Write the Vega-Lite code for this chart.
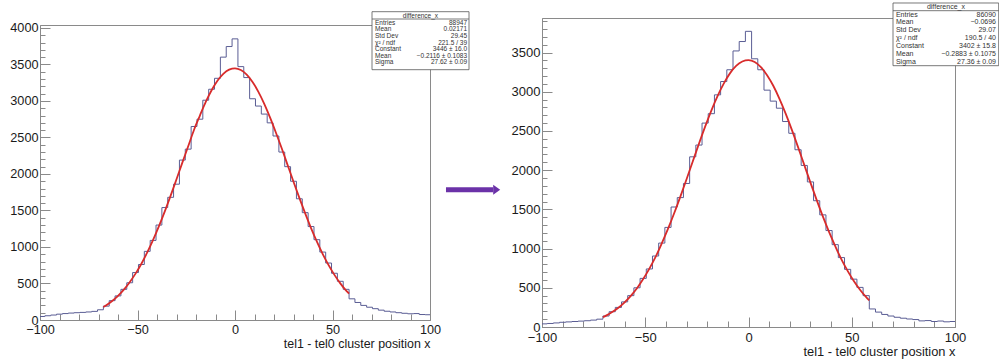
{
  "$schema": "https://vega.github.io/schema/vega-lite/v6.json",
  "background": "white",
  "padding": {"left": 9, "top": 2, "right": 0, "bottom": 0},
  "config": {
    "font": "Liberation Sans",
    "view": {"stroke": "#8a8a8a", "strokeWidth": 1},
    "axis": {"grid": false, "domainColor": "#8a8a8a", "tickColor": "#8a8a8a", "labelColor": "#1a1a1a", "titleColor": "#1a1a1a", "titleFontWeight": "normal", "labelFlush": false, "labelOverlap": false}
  },
  "datasets": {
    "h1": [
      {"x": -102, "n": 45}, {"x": -99, "n": 48}, {"x": -96, "n": 58}, {"x": -93, "n": 68}, {"x": -90, "n": 80},
      {"x": -87, "n": 88}, {"x": -84, "n": 95}, {"x": -81, "n": 100}, {"x": -78, "n": 104}, {"x": -75, "n": 110},
      {"x": -72, "n": 118}, {"x": -69, "n": 140}, {"x": -66, "n": 190}, {"x": -63, "n": 265}, {"x": -60, "n": 330},
      {"x": -57, "n": 420}, {"x": -54, "n": 510}, {"x": -51, "n": 650}, {"x": -48, "n": 760}, {"x": -45, "n": 940},
      {"x": -42, "n": 1090}, {"x": -39, "n": 1300}, {"x": -36, "n": 1540}, {"x": -33, "n": 1680}, {"x": -30, "n": 1860},
      {"x": -27, "n": 2190}, {"x": -24, "n": 2340}, {"x": -21, "n": 2650}, {"x": -18, "n": 2750}, {"x": -15, "n": 3010},
      {"x": -12, "n": 3160}, {"x": -9, "n": 3310}, {"x": -6, "n": 3600}, {"x": -3, "n": 3745}, {"x": 0, "n": 3850},
      {"x": 3, "n": 3470}, {"x": 6, "n": 3320}, {"x": 9, "n": 3030}, {"x": 12, "n": 2930}, {"x": 15, "n": 2820},
      {"x": 18, "n": 2700}, {"x": 21, "n": 2520}, {"x": 24, "n": 2300}, {"x": 27, "n": 2100}, {"x": 30, "n": 1900},
      {"x": 33, "n": 1660}, {"x": 36, "n": 1470}, {"x": 39, "n": 1280}, {"x": 42, "n": 1100}, {"x": 45, "n": 930},
      {"x": 48, "n": 780}, {"x": 51, "n": 640}, {"x": 54, "n": 530}, {"x": 57, "n": 420}, {"x": 60, "n": 290},
      {"x": 63, "n": 240}, {"x": 66, "n": 200}, {"x": 69, "n": 175}, {"x": 72, "n": 155}, {"x": 75, "n": 135},
      {"x": 78, "n": 120}, {"x": 81, "n": 110}, {"x": 84, "n": 100}, {"x": 87, "n": 92}, {"x": 90, "n": 85},
      {"x": 93, "n": 88}, {"x": 96, "n": 75}, {"x": 99, "n": 72}, {"x": 102, "n": 80}
    ],
    "f1": [
      {"x": -67.5, "f": 177}, {"x": -66, "f": 202}, {"x": -63, "f": 260}, {"x": -60, "f": 331}, {"x": -57, "f": 416},
      {"x": -54, "f": 518}, {"x": -51, "f": 635}, {"x": -48, "f": 771}, {"x": -45, "f": 925}, {"x": -42, "f": 1097},
      {"x": -39, "f": 1285}, {"x": -36, "f": 1488}, {"x": -33, "f": 1703}, {"x": -30, "f": 1928}, {"x": -27, "f": 2155},
      {"x": -24, "f": 2379}, {"x": -21, "f": 2606}, {"x": -18, "f": 2800}, {"x": -15, "f": 2987}, {"x": -12, "f": 3146},
      {"x": -9, "f": 3276}, {"x": -6, "f": 3371}, {"x": -3, "f": 3428}, {"x": 0, "f": 3446}, {"x": 3, "f": 3423},
      {"x": 6, "f": 3360}, {"x": 9, "f": 3260}, {"x": 12, "f": 3125}, {"x": 15, "f": 2961}, {"x": 18, "f": 2772},
      {"x": 21, "f": 2565}, {"x": 24, "f": 2349}, {"x": 27, "f": 2121}, {"x": 30, "f": 1894}, {"x": 33, "f": 1672},
      {"x": 36, "f": 1460}, {"x": 39, "f": 1258}, {"x": 42, "f": 1072}, {"x": 45, "f": 902}, {"x": 48, "f": 751},
      {"x": 51, "f": 618}, {"x": 54, "f": 502}, {"x": 57, "f": 403}, {"x": 58.5, "f": 360}
    ],
    "s1": [
      {"row": 0, "label": "Entries", "value": "88947"},
      {"row": 1, "label": "Mean", "value": "0.02171"},
      {"row": 2, "label": "Std Dev", "value": "29.45"},
      {"row": 3, "label": "χ² / ndf", "value": "221.5 / 39"},
      {"row": 4, "label": "Constant", "value": "3446 ± 16.0"},
      {"row": 5, "label": "Mean", "value": "−0.2116 ± 0.1083"},
      {"row": 6, "label": "Sigma", "value": "27.62 ± 0.09"}
    ],
    "h2": [
      {"x": -102, "n": 35}, {"x": -99, "n": 40}, {"x": -96, "n": 45}, {"x": -93, "n": 52}, {"x": -90, "n": 60},
      {"x": -87, "n": 65}, {"x": -84, "n": 70}, {"x": -81, "n": 75}, {"x": -78, "n": 80}, {"x": -75, "n": 88},
      {"x": -72, "n": 100}, {"x": -69, "n": 140}, {"x": -66, "n": 195}, {"x": -63, "n": 250}, {"x": -60, "n": 320},
      {"x": -57, "n": 400}, {"x": -54, "n": 500}, {"x": -51, "n": 620}, {"x": -48, "n": 740}, {"x": -45, "n": 905},
      {"x": -42, "n": 1070}, {"x": -39, "n": 1270}, {"x": -36, "n": 1530}, {"x": -33, "n": 1650}, {"x": -30, "n": 1830},
      {"x": -27, "n": 2170}, {"x": -24, "n": 2320}, {"x": -21, "n": 2600}, {"x": -18, "n": 2720}, {"x": -15, "n": 2960},
      {"x": -12, "n": 3130}, {"x": -9, "n": 3280}, {"x": -6, "n": 3520}, {"x": -3, "n": 3640}, {"x": 0, "n": 3770},
      {"x": 3, "n": 3420}, {"x": 6, "n": 3280}, {"x": 9, "n": 3020}, {"x": 12, "n": 2880}, {"x": 15, "n": 2790},
      {"x": 18, "n": 2620}, {"x": 21, "n": 2470}, {"x": 24, "n": 2260}, {"x": 27, "n": 2060}, {"x": 30, "n": 1850},
      {"x": 33, "n": 1610}, {"x": 36, "n": 1430}, {"x": 39, "n": 1230}, {"x": 42, "n": 1050}, {"x": 45, "n": 885},
      {"x": 48, "n": 735}, {"x": 51, "n": 610}, {"x": 54, "n": 505}, {"x": 57, "n": 400}, {"x": 60, "n": 230},
      {"x": 63, "n": 190}, {"x": 66, "n": 160}, {"x": 69, "n": 140}, {"x": 72, "n": 124}, {"x": 75, "n": 112},
      {"x": 78, "n": 102}, {"x": 81, "n": 95}, {"x": 84, "n": 78}, {"x": 87, "n": 82}, {"x": 90, "n": 70},
      {"x": 93, "n": 76}, {"x": 96, "n": 66}, {"x": 99, "n": 70}, {"x": 102, "n": 72}
    ],
    "f2": [
      {"x": -70.5, "f": 126}, {"x": -69, "f": 145}, {"x": -66, "f": 191}, {"x": -63, "f": 246}, {"x": -60, "f": 315},
      {"x": -57, "f": 397}, {"x": -54, "f": 494}, {"x": -51, "f": 611}, {"x": -48, "f": 744}, {"x": -45, "f": 893},
      {"x": -42, "f": 1066}, {"x": -39, "f": 1250}, {"x": -36, "f": 1450}, {"x": -33, "f": 1663}, {"x": -30, "f": 1884},
      {"x": -27, "f": 2111}, {"x": -24, "f": 2337}, {"x": -21, "f": 2555}, {"x": -18, "f": 2759}, {"x": -15, "f": 2944},
      {"x": -12, "f": 3104}, {"x": -9, "f": 3234}, {"x": -6, "f": 3329}, {"x": -3, "f": 3385}, {"x": 0, "f": 3402},
      {"x": 3, "f": 3378}, {"x": 6, "f": 3313}, {"x": 9, "f": 3211}, {"x": 12, "f": 3076}, {"x": 15, "f": 2910},
      {"x": 18, "f": 2721}, {"x": 21, "f": 2514}, {"x": 24, "f": 2294}, {"x": 27, "f": 2067}, {"x": 30, "f": 1841},
      {"x": 33, "f": 1621}, {"x": 36, "f": 1410}, {"x": 39, "f": 1213}, {"x": 42, "f": 1032}, {"x": 45, "f": 862},
      {"x": 48, "f": 716}, {"x": 51, "f": 587}, {"x": 54, "f": 475}, {"x": 57, "f": 380}, {"x": 58.5, "f": 338}
    ],
    "s2": [
      {"row": 0, "label": "Entries", "value": "86090"},
      {"row": 1, "label": "Mean", "value": "−0.0696"},
      {"row": 2, "label": "Std Dev", "value": "29.07"},
      {"row": 3, "label": "χ² / ndf", "value": "190.5 / 40"},
      {"row": 4, "label": "Constant", "value": "3402 ± 15.8"},
      {"row": 5, "label": "Mean", "value": "−0.2883 ± 0.1075"},
      {"row": 6, "label": "Sigma", "value": "27.36 ± 0.09"}
    ]
  },
  "hconcat": [
    {
      "width": 390,
      "height": 295,
      "layer": [
        {
          "layer": [
            {
              "data": {"name": "h1"},
              "mark": {"type": "line", "interpolate": "step", "color": "#5a5d94", "strokeWidth": 1, "clip": true},
              "encoding": {
                "x": {"field": "x", "type": "quantitative", "scale": {"domain": [-100, 100], "nice": false, "zero": false},
                  "axis": {"orient": "bottom", "values": [-100, -50, 0, 50, 100], "format": "d",
                    "tickSize": -10, "labelPadding": 13.5, "labelFontSize": 12.7,
                    "title": "tel1 - tel0 cluster position x", "titleAnchor": "end", "titleAlign": "right", "titleFontSize": 12.4, "titlePadding": 1.5}},
                "y": {"field": "n", "type": "quantitative", "scale": {"domain": [0, 4040], "nice": false, "zero": false},
                  "axis": {"orient": "left", "values": [0, 500, 1000, 1500, 2000, 2500, 3000, 3500, 4000], "format": "d",
                    "tickSize": -10, "labelPadding": 12, "labelFontSize": 12.7, "title": null}}
              }
            },
            {
              "data": {"name": "f1"},
              "mark": {"type": "line", "interpolate": "monotone", "color": "#d82b2b", "strokeWidth": 1.8},
              "encoding": {
                "x": {"field": "x", "type": "quantitative",
                  "axis": {"orient": "bottom", "values": [-90, -80, -70, -60, -40, -30, -20, -10, 10, 20, 30, 40, 60, 70, 80, 90],
                    "labels": false, "domain": false, "tickSize": -6, "title": null}},
                "y": {"field": "f", "type": "quantitative",
                  "axis": {"orient": "left", "values": [100, 200, 300, 400, 600, 700, 800, 900, 1100, 1200, 1300, 1400, 1600, 1700, 1800, 1900, 2100, 2200, 2300, 2400, 2600, 2700, 2800, 2900, 3100, 3200, 3300, 3400, 3600, 3700, 3800, 3900],
                    "labels": false, "domain": false, "tickSize": -5, "title": null}}
              }
            },
            {
              "data": {"values": [{}]},
              "mark": {"type": "rule", "color": "#6b32a8", "strokeWidth": 5, "strokeCap": "butt"},
              "encoding": {"x": {"datum": 108.2, "axis": null}, "x2": {"datum": 132.4}, "y": {"datum": 1785, "axis": null}}
            },
            {
              "data": {"values": [{}]},
              "mark": {"type": "point", "shape": "M-0.7,-1L0.7,0L-0.7,1Z", "filled": true, "size": 100, "color": "#6b32a8", "opacity": 1},
              "encoding": {"x": {"datum": 134.2, "axis": null}, "y": {"datum": 1785, "axis": null}}
            }
          ],
          "resolve": {"axis": {"x": "independent", "y": "independent"}}
        },
        {
          "layer": [
            {
              "data": {"values": [{}]},
              "mark": {"type": "rect", "fill": "white", "stroke": "#555555", "strokeWidth": 0.8},
              "encoding": {
                "x": {"datum": 70.26, "axis": null}, "x2": {"datum": 120},
                "y": {"datum": -1.71, "type": "quantitative", "scale": {"domain": [0.3206, 45.36], "reverse": true, "nice": false, "zero": false}, "axis": null},
                "y2": {"datum": 7.145}
              }
            },
            {
              "data": {"values": [{}]},
              "mark": {"type": "rule", "color": "#555555", "strokeWidth": 0.8},
              "encoding": {"x": {"datum": 70.26, "axis": null}, "x2": {"datum": 120}, "y": {"datum": -0.595, "type": "quantitative", "axis": null}}
            },
            {
              "data": {"values": [{}]},
              "mark": {"type": "text", "align": "center", "baseline": "middle", "fontSize": 6.5, "color": "#333333"},
              "encoding": {"x": {"datum": 95.1, "axis": null}, "y": {"datum": -1, "type": "quantitative", "axis": null}, "text": {"value": "difference_x"}}
            },
            {
              "data": {"name": "s1"},
              "mark": {"type": "text", "align": "left", "baseline": "middle", "fontSize": 6.5, "color": "#333333"},
              "encoding": {"x": {"datum": 71.8, "axis": null}, "y": {"field": "row", "type": "quantitative", "axis": null}, "text": {"field": "label"}}
            },
            {
              "data": {"name": "s1"},
              "mark": {"type": "text", "align": "right", "baseline": "middle", "fontSize": 6.5, "color": "#333333"},
              "encoding": {"x": {"datum": 119.0, "axis": null}, "y": {"field": "row", "type": "quantitative", "axis": null}, "text": {"field": "value"}}
            }
          ]
        }
      ],
      "resolve": {"scale": {"y": "independent"}, "axis": {"x": "independent", "y": "independent"}}
    },
    {
      "width": 413,
      "height": 309,
      "layer": [
        {
          "layer": [
            {
              "data": {"name": "h2"},
              "mark": {"type": "line", "interpolate": "step", "color": "#5a5d94", "strokeWidth": 1, "clip": true},
              "encoding": {
                "x": {"field": "x", "type": "quantitative", "scale": {"domain": [-100, 100], "nice": false, "zero": false},
                  "axis": {"orient": "bottom", "values": [-100, -50, 0, 50, 100], "format": "d",
                    "tickSize": -10, "labelPadding": 14, "labelFontSize": 13,
                    "title": "tel1 - tel0 cluster position x", "titleAnchor": "end", "titleAlign": "right", "titleFontSize": 12.85, "titlePadding": 1}},
                "y": {"field": "n", "type": "quantitative", "scale": {"domain": [0, 3940], "nice": false, "zero": false},
                  "axis": {"orient": "left", "values": [0, 500, 1000, 1500, 2000, 2500, 3000, 3500], "format": "d",
                    "tickSize": -10, "labelPadding": 12, "labelFontSize": 13, "title": null}}
              }
            },
            {
              "data": {"name": "f2"},
              "mark": {"type": "line", "interpolate": "monotone", "color": "#d82b2b", "strokeWidth": 1.8},
              "encoding": {
                "x": {"field": "x", "type": "quantitative",
                  "axis": {"orient": "bottom", "values": [-90, -80, -70, -60, -40, -30, -20, -10, 10, 20, 30, 40, 60, 70, 80, 90],
                    "labels": false, "domain": false, "tickSize": -6, "title": null}},
                "y": {"field": "f", "type": "quantitative",
                  "axis": {"orient": "left", "values": [100, 200, 300, 400, 600, 700, 800, 900, 1100, 1200, 1300, 1400, 1600, 1700, 1800, 1900, 2100, 2200, 2300, 2400, 2600, 2700, 2800, 2900, 3100, 3200, 3300, 3400, 3600, 3700, 3800, 3900],
                    "labels": false, "domain": false, "tickSize": -5, "title": null}}
              }
            }
          ],
          "resolve": {"axis": {"x": "independent", "y": "independent"}}
        },
        {
          "layer": [
            {
              "data": {"values": [{}]},
              "mark": {"type": "rect", "fill": "white", "stroke": "#555555", "strokeWidth": 0.8},
              "encoding": {
                "x": {"datum": 69.98, "axis": null}, "x2": {"datum": 121.16},
                "y": {"datum": -1.476, "type": "quantitative", "scale": {"domain": [0.4326, 39.745], "reverse": true, "nice": false, "zero": false}, "axis": null},
                "y2": {"datum": 6.5}
              }
            },
            {
              "data": {"values": [{}]},
              "mark": {"type": "rule", "color": "#555555", "strokeWidth": 0.8},
              "encoding": {"x": {"datum": 69.98, "axis": null}, "x2": {"datum": 121.16}, "y": {"datum": -0.496, "type": "quantitative", "axis": null}}
            },
            {
              "data": {"values": [{}]},
              "mark": {"type": "text", "align": "center", "baseline": "middle", "fontSize": 7, "color": "#333333"},
              "encoding": {"x": {"datum": 95.6, "axis": null}, "y": {"datum": -1, "type": "quantitative", "axis": null}, "text": {"value": "difference_x"}}
            },
            {
              "data": {"name": "s2"},
              "mark": {"type": "text", "align": "left", "baseline": "middle", "fontSize": 7, "color": "#333333"},
              "encoding": {"x": {"datum": 71.4, "axis": null}, "y": {"field": "row", "type": "quantitative", "axis": null}, "text": {"field": "label"}}
            },
            {
              "data": {"name": "s2"},
              "mark": {"type": "text", "align": "right", "baseline": "middle", "fontSize": 7, "color": "#333333"},
              "encoding": {"x": {"datum": 119.85, "axis": null}, "y": {"field": "row", "type": "quantitative", "axis": null}, "text": {"field": "value"}}
            }
          ]
        }
      ],
      "resolve": {"scale": {"y": "independent"}, "axis": {"x": "independent", "y": "independent"}}
    }
  ],
  "spacing": 112,
  "bounds": "flush",
  "center": true
}
